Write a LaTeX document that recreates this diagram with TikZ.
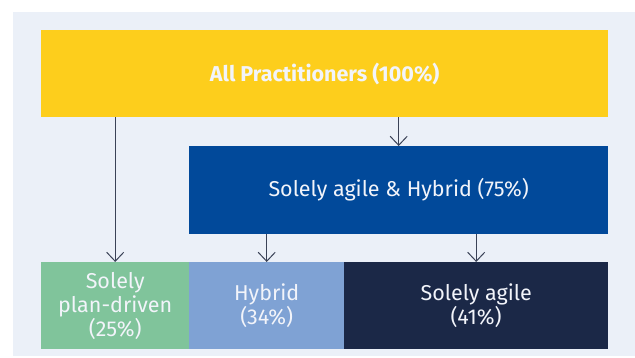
\documentclass[tikz,border=0pt]{standalone}
\usepackage{fontspec}
\setmainfont{Fira Sans}
\usetikzlibrary{arrows.meta}
\definecolor{bgpanel}{HTML}{EBF0F8}
\definecolor{cyellow}{HTML}{FDCE1C}
\definecolor{cblue}{HTML}{01499A}
\definecolor{cgreen}{HTML}{80C49B}
\definecolor{clight}{HTML}{7FA2D4}
\definecolor{cnavy}{HTML}{1B2847}
\definecolor{carrow}{HTML}{3A4257}
\definecolor{ctext}{HTML}{F2F4FA}
\tikzset{
  box/.style={draw=none, inner sep=0pt, anchor=north west, text=ctext, align=center,
    font=\fontsize{21.5}{24}\selectfont},
  arr/.style={draw=carrow, line width=1pt, -{Straight Barb[length=9pt, width=17pt, line width=1pt]}}
}
\begin{document}
\begin{tikzpicture}[x=1pt,y=-1pt]
\useasboundingbox (0,0) rectangle (635,358);
\fill[white] (0,0) rectangle (635,358);
\fill[bgpanel] (13,12) rectangle (635,356);
\node[box, fill=cyellow, minimum width=567pt, minimum height=87pt,
  font=\fontsize{21.5}{24}\selectfont\bfseries] (all) at (41,30) {All Practitioners (100\%)};
\node[box, fill=cblue, minimum width=419pt, minimum height=88pt] (ah) at (189,146) {Solely agile \& Hybrid (75\%)};
\node[box, fill=cgreen, minimum width=148pt, minimum height=87pt] (plan) at (41,262) {Solely\\plan-driven\\(25\%)};
\node[box, fill=clight, minimum width=155pt, minimum height=87pt] (hyb) at (189,262) {Hybrid\\(34\%)};
\node[box, fill=cnavy, minimum width=264pt, minimum height=87pt] (agile) at (344,262) {Solely agile\\(41\%)};
\draw[arr] (all.south -| plan.north) -- (plan.north);
\draw[arr] (all.south -| ah.north) -- (ah.north);
\draw[arr] (ah.south -| hyb.north) -- (hyb.north);
\draw[arr] (ah.south -| agile.north) -- (agile.north);
\end{tikzpicture}
\end{document}
